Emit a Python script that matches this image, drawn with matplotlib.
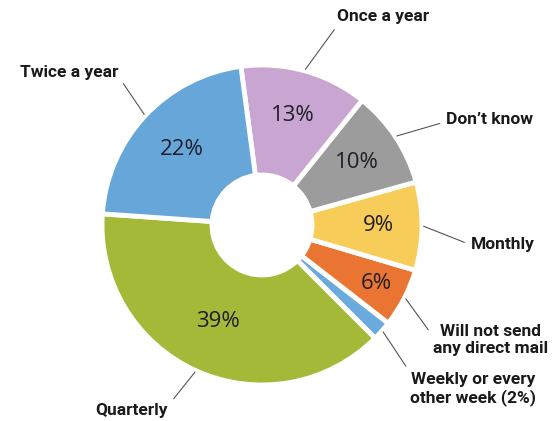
import numpy as np
import matplotlib.pyplot as plt

# Answers listed counter-clockwise, starting at the left edge of the ring
categories = ["Quarterly", "Weekly or every\nother week (2%)", "Will not send\nany direct mail",
              "Monthly", "Don\u2019t know", "Once a year", "Twice a year"]
shares = [39, 2, 6, 9, 10, 13, 22]
pct_text = ["39%", "", "6%", "9%", "10%", "13%", "22%"]
colors = ["#a5b939", "#6aaadc", "#ea7432", "#f8cc58", "#9c9c9c", "#c8a6d1", "#67a6d8"]

# where the outside labels sit (pixels, y up) and which corner the leader leaves from
label_pos = [(132, 11), (473, 32), (491, 81), (503, 176), (490, 301), (383, 405), (69, 348)]
label_rel = [(1.0, 0.8), (0.0, 1.0), (0.0, 0.6), (0.0, 0.5), (0.0, 0.4), (0.02, 0.0), (1.0, 0.3)]
pct_dist = [0.66, 0.0, 0.8, 0.73, 0.71, 0.71, 0.69]

label_font = ["Roboto", "DejaVu Sans"]
pct_font = ["Open Sans", "DejaVu Sans"]

cx, cy, R = 262, 196, 160

fig = plt.figure(figsize=(5.55, 4.21), dpi=100)
ax = fig.add_axes([0, 0, 1, 1])

wedges, _ = ax.pie(shares, colors=colors, startangle=176, counterclock=True,
                   radius=R, center=(cx, cy),
                   wedgeprops=dict(width=110, edgecolor="white", linewidth=3.5))

for w, name, pct, d, pos, rel in zip(wedges, categories, pct_text, pct_dist, label_pos, label_rel):
    mid = np.deg2rad((w.theta1 + w.theta2) / 2)
    if pct:
        ax.text(cx + d * R * np.cos(mid), cy + d * R * np.sin(mid), pct,
                ha="center", va="center", fontsize=16, family=pct_font, color="#1f1f2b")
    ax.annotate(name, xy=(cx + 1.01 * R * np.cos(mid), cy + 1.01 * R * np.sin(mid)),
                xytext=pos, ha="center", va="center", fontsize=12.5, fontweight="bold",
                family=label_font, color="#1a1a1a", linespacing=1.1,
                arrowprops=dict(arrowstyle="-", color="#555555", lw=0.8,
                                relpos=rel, shrinkA=3, shrinkB=0))

ax.set_xlim(0, 555)
ax.set_ylim(0, 421)
ax.set_aspect("equal")
ax.axis("off")

fig.savefig("out.png", dpi=100, facecolor="white")
